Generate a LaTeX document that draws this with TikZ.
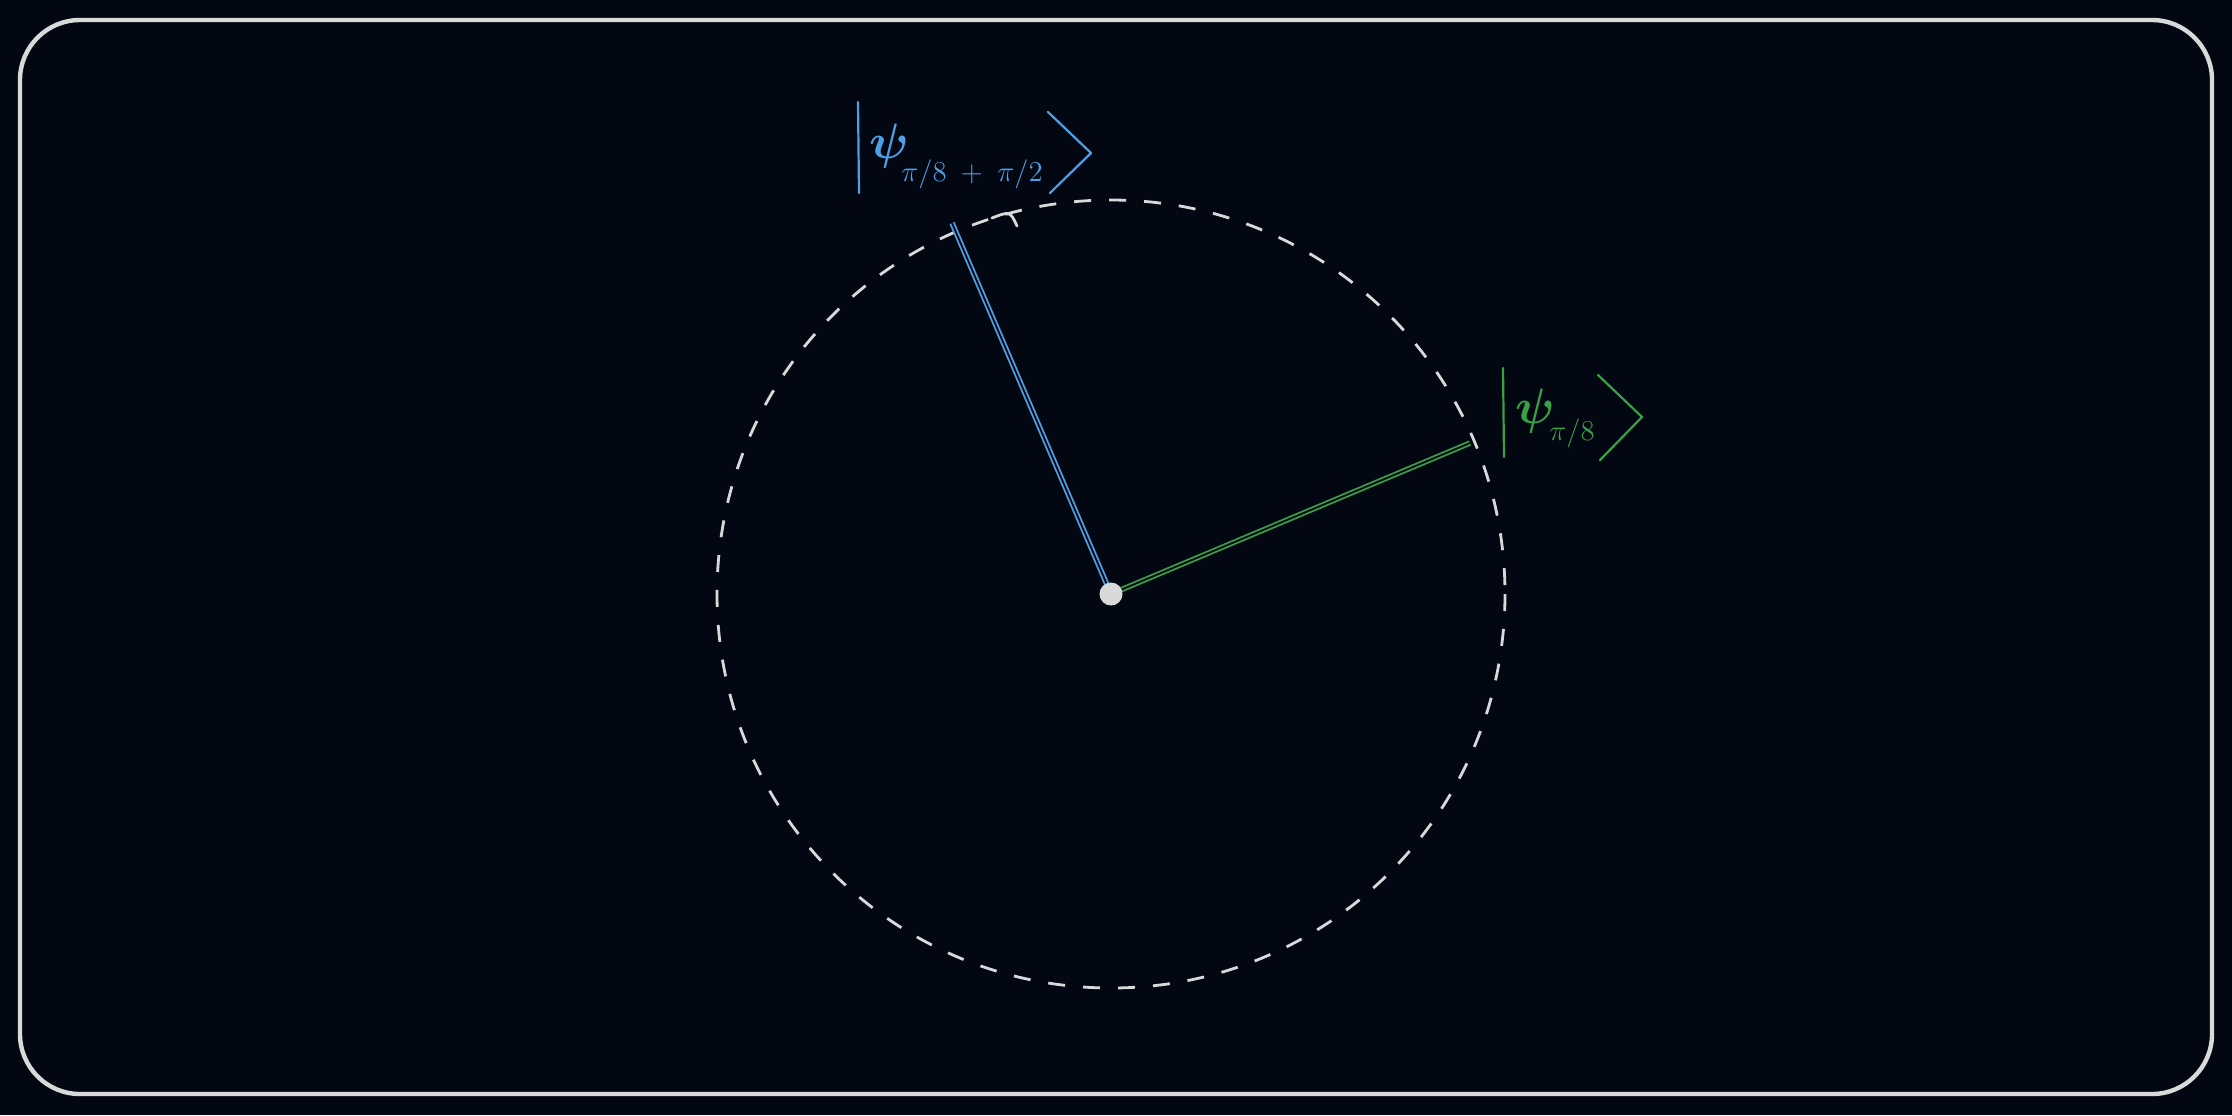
\documentclass[tikz,border=0pt]{standalone}
\usepackage{amsmath}
\definecolor{bg}{RGB}{3,7,18}
\definecolor{fg}{RGB}{217,217,217}
\definecolor{kblue}{RGB}{77,160,230}
\definecolor{kgreen}{RGB}{58,160,70}
\tikzset{
  frame/.style={draw=fg,line width=2.2pt,rounded corners=30pt},
  dashcircle/.style={draw=fg,line width=1.4pt,dash pattern=on 8.5pt off 9pt},
  ray/.style={line width=0.9pt,double=bg,double distance=0.9pt},
  ketline/.style={line width=1.1pt,line cap=round,line join=round},
  psi/.style={inner sep=0pt,font=\fontsize{27}{30}\selectfont},
  sub/.style={inner sep=0pt,font=\fontsize{15}{17}\selectfont,anchor=base west},
}
\begin{document}
\begin{tikzpicture}[x=0.5pt,y=-0.5pt]
\useasboundingbox (0,0) rectangle (2232,1115);
\fill[bg] (0,0) rectangle (2232,1115);
\draw[frame] (20,20) rectangle (2212,1094);
% circle
\coordinate (o) at (1111,594);
\draw[dashcircle] (o) circle[radius=394];
\draw[fg,line width=1.4pt,line cap=round] (992,218) .. controls (1010,211) .. (1017,226);
% rays
\coordinate (b) at (952,223);
\coordinate (g) at (1470,443);
\draw[ray,kblue] (o) -- (b);
\draw[ray,kgreen] (o) -- (g);
\node[circle,fill=fg,minimum size=11.5pt,inner sep=0pt] (dot) at (o) {};
% blue ket
\coordinate (bb1) at (858,102);
\coordinate (bb2) at (859,193);
\coordinate (ba1) at (1048,112);
\coordinate (ba2) at (1091,153);
\coordinate (ba3) at (1050,193);
\draw[ketline,kblue] (bb1) -- (bb2);
\draw[ketline,kblue] (ba1) -- (ba2) -- (ba3);
\node[psi,text=kblue] (bpsi) at (889,146) {$\boldsymbol{\psi}$};
\node[sub,text=kblue] (bsub) at (901,181) {$\pi/8\;+\;\pi/2$};
% green ket
\coordinate (gb1) at (1503,368);
\coordinate (gb2) at (1504,457);
\coordinate (ga1) at (1598,375);
\coordinate (ga2) at (1642,417);
\coordinate (ga3) at (1600,460);
\draw[ketline,kgreen] (gb1) -- (gb2);
\draw[ketline,kgreen] (ga1) -- (ga2) -- (ga3);
\node[psi,text=kgreen] (gpsi) at (1535,411) {$\boldsymbol{\psi}$};
\node[sub,text=kgreen] (gsub) at (1549,440) {$\pi/8$};
\end{tikzpicture}
\end{document}
